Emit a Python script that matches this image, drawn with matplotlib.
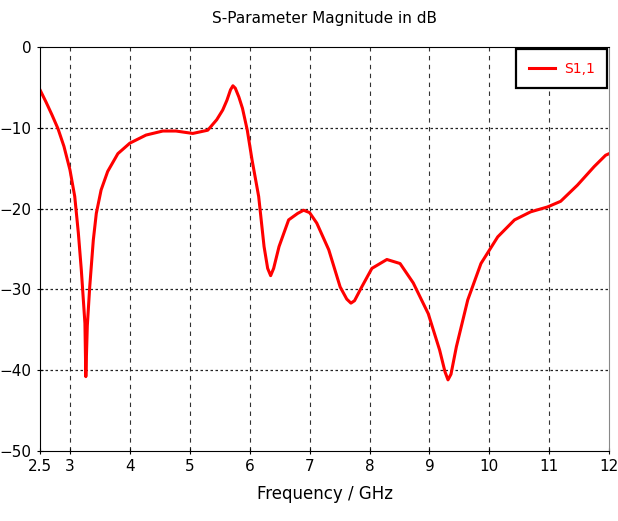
import matplotlib.pyplot as plt
import numpy as np

# S11 readings (GHz, dB)
freq = [2.5, 2.6, 2.7, 2.8, 2.9, 3.0, 3.08, 3.14, 3.19, 3.25, 3.265, 3.29, 3.33,
        3.39, 3.44, 3.52, 3.63, 3.80, 4.0, 4.27, 4.55, 4.77, 5.05, 5.30, 5.45, 5.55,
        5.62, 5.68, 5.72, 5.76, 5.82, 5.88, 5.96, 6.04, 6.15, 6.24, 6.30, 6.35, 6.40,
        6.49, 6.65, 6.80, 6.90, 7.0, 7.12, 7.32, 7.51, 7.62, 7.69, 7.75, 7.87, 8.04,
        8.29, 8.51, 8.73, 8.98, 9.17, 9.26, 9.31, 9.36, 9.45, 9.64, 9.86, 10.14,
        10.42, 10.69, 10.97, 11.19, 11.47, 11.75, 11.94, 12.0]
s11 = [-5.3, -6.8, -8.4, -10.1, -12.3, -15.2, -18.5, -23.0, -27.6, -34.2, -40.8,
       -34.5, -29.7, -23.9, -20.6, -17.7, -15.4, -13.2, -11.9, -10.9, -10.4, -10.4,
       -10.7, -10.3, -9.0, -7.8, -6.6, -5.3, -4.8, -5.1, -6.2, -7.6, -10.3, -14.0,
       -18.5, -24.7, -27.4, -28.3, -27.4, -24.7, -21.4, -20.6, -20.2, -20.5, -21.8,
       -25.1, -29.7, -31.2, -31.7, -31.4, -29.7, -27.4, -26.3, -26.8, -29.2, -33.0,
       -37.5, -40.2, -41.2, -40.5, -37.1, -31.3, -26.8, -23.5, -21.4, -20.4, -19.8,
       -19.1, -17.1, -14.8, -13.4, -13.2]
xticks = [2.5, 3, 4, 5, 6, 7, 8, 9, 10, 11, 12]
yticks = [0, -10, -20, -30, -40, -50]

fig = plt.figure(figsize=(6.18, 5.21), dpi=100)
ax = fig.add_axes([0.0647, 0.1344, 0.921, 0.7754])

ax.plot(freq, s11, color='red', linewidth=2.2, label='S1,1')

ax.set_xlim(2.5, 12)
ax.set_ylim(-50, 0)
ax.set_xticks(xticks)
ax.set_xticklabels(['2.5', '3', '4', '5', '6', '7', '8', '9', '10', '11', '12'])
ax.set_yticks(yticks)
ax.tick_params(direction='inout', length=5, labelsize=11)

for x in xticks[1:-1]:
    ax.axvline(x, color='#333333', linestyle=(0, (4, 4)), linewidth=0.8, zorder=0)
for y in yticks[1:-1]:
    ax.axhline(y, color='#222222', linestyle=(0, (2, 2)), linewidth=0.9, zorder=0)

ax.spines['right'].set_color('#888888')

ax.set_title('S-Parameter Magnitude in dB', fontsize=11, pad=17)
ax.set_xlabel('Frequency / GHz', fontsize=12, labelpad=8)

leg = ax.legend(loc='upper right', fontsize=10, fancybox=False, framealpha=1,
                borderaxespad=0.15, borderpad=0.9, handlelength=1.9,
                handletextpad=0.6, labelcolor='red')
leg.get_frame().set_edgecolor('black')
leg.get_frame().set_linewidth(1.6)

fig.savefig('out.png', dpi=100)
